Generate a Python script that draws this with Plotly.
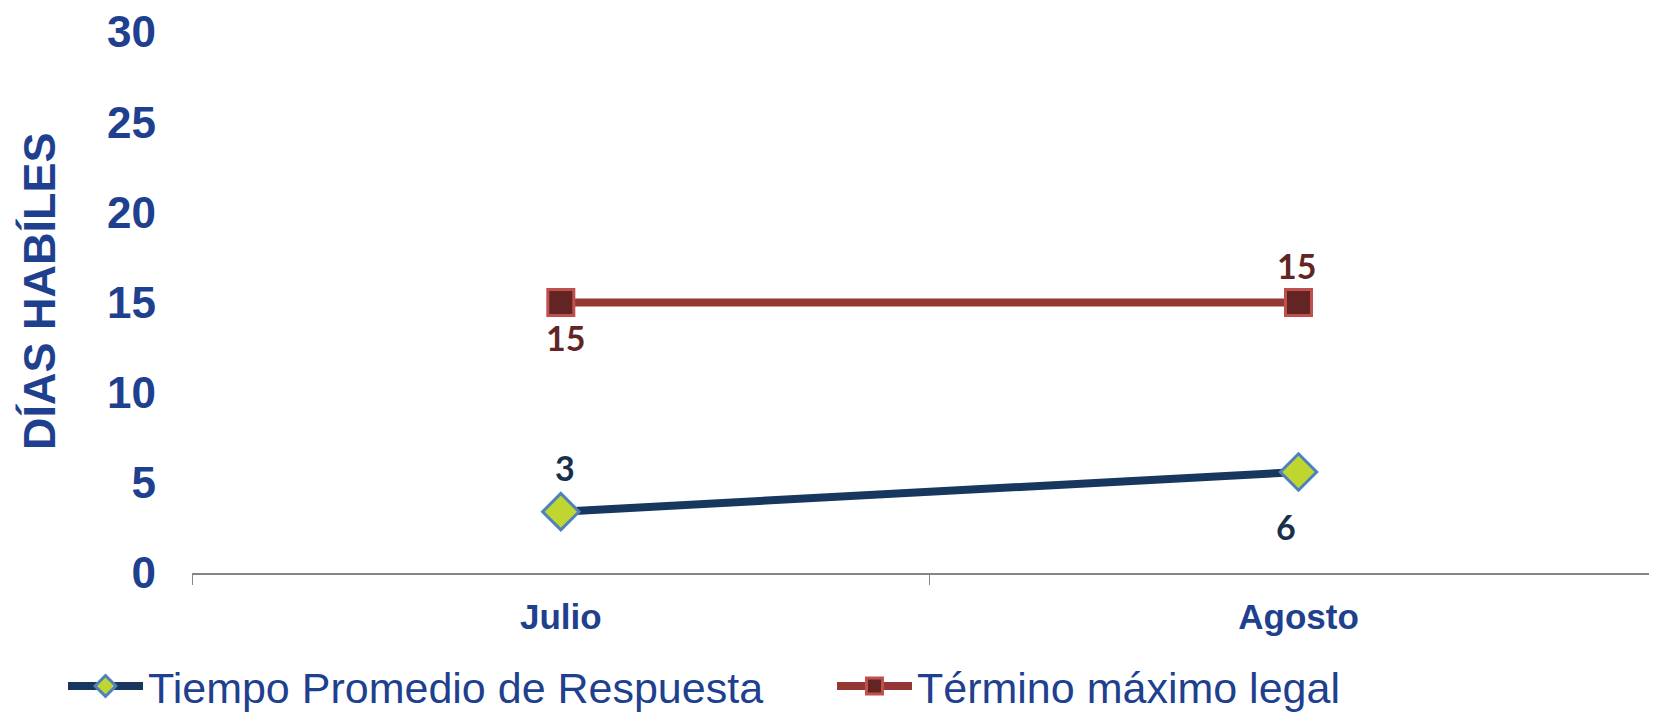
import plotly.graph_objects as go

categories = ["Julio", "Agosto"]
tiempo_promedio = [3.4, 5.6]
termino_maximo = [15, 15]
y_ticks = [0, 5, 10, 15, 20, 25, 30]

BLUE_TXT = "#1F3F8F"
OFF = 8  # page body margin
W, H = 1657 - OFF, 713 - OFF
L, R, T, B = 192 - OFF, 0, 32 - OFF, 140
PW, PH = W - L - R, H - T - B
BOTTOM = H - B


def px_x(x):
    return (x - OFF - L) / PW


def px_y(y):
    return (BOTTOM - (y - OFF)) / PH


fig = go.Figure()
fig.add_trace(go.Scatter(
    x=categories, y=tiempo_promedio, mode="lines+markers",
    name="Tiempo Promedio de Respuesta",
    line=dict(color="#17375E", width=8),
    marker=dict(symbol="diamond", size=28, color="#BFD630",
                line=dict(color="#4F81BD", width=3)),
))
fig.add_trace(go.Scatter(
    x=categories, y=termino_maximo, mode="lines+markers",
    name="Término máximo legal",
    line=dict(color="#953735", width=8),
    marker=dict(symbol="square", size=26, color="#632523",
                line=dict(color="#C0504D", width=3)),
))

# data labels
shifts_red = [(5, -35), (-2, 37)]
for c, v, (dx, dy) in zip(categories, termino_maximo, shifts_red):
    fig.add_annotation(x=c, y=v, text=str(round(v)), showarrow=False,
                       xshift=dx, yshift=dy,
                       font=dict(family="Lato", size=34, color="#632523", weight="bold"))
shifts_blue = [(4, 44), (-13, -54)]
for c, v, (dx, dy) in zip(categories, tiempo_promedio, shifts_blue):
    fig.add_annotation(x=c, y=v, text=str(round(v)), showarrow=False,
                       xshift=dx, yshift=dy,
                       font=dict(family="Lato", size=34, color="#1B2F4D", weight="bold"))

# y-axis title
fig.add_annotation(xref="paper", yref="paper", x=px_x(39), y=px_y(291),
                   xanchor="center", yanchor="middle",
                   text="DÍAS HABÍLES", textangle=-90, showarrow=False,
                   font=dict(family="Liberation Sans", size=45, color=BLUE_TXT, weight="bold"))

fig.update_layout(
    width=W, height=H,
    margin=dict(l=L, r=R, t=T, b=B, autoexpand=False),
    plot_bgcolor="white", paper_bgcolor="white",
    showlegend=True,
    legend=dict(orientation="h", x=px_x(63), xanchor="left",
                y=px_y(686), yanchor="middle",
                font=dict(family="Liberation Sans", size=43, color=BLUE_TXT),
                itemwidth=75, entrywidth=679, entrywidthmode="pixels",
                bgcolor="rgba(0,0,0,0)"),
    xaxis=dict(
        type="category", range=[-0.5, 1.486], automargin=False,
        showline=True, linecolor="#868686", linewidth=2,
        ticks="outside", ticklen=10, tickcolor="#868686", tickwidth=1,
        tickson="boundaries", showgrid=False, zeroline=False,
        tickfont=dict(family="Liberation Sans", size=35, color=BLUE_TXT, weight="bold"),
        ticklabelstandoff=12,
    ),
    yaxis=dict(
        range=[0, 30], tickvals=y_ticks, showgrid=False, zeroline=False,
        showline=False, ticks="", automargin=False, ticklabeloverflow="allow",
        tickfont=dict(family="Liberation Sans", size=44, color=BLUE_TXT, weight="bold"),
        ticklabelstandoff=35,
    ),
)

fig.write_html("out.html")
